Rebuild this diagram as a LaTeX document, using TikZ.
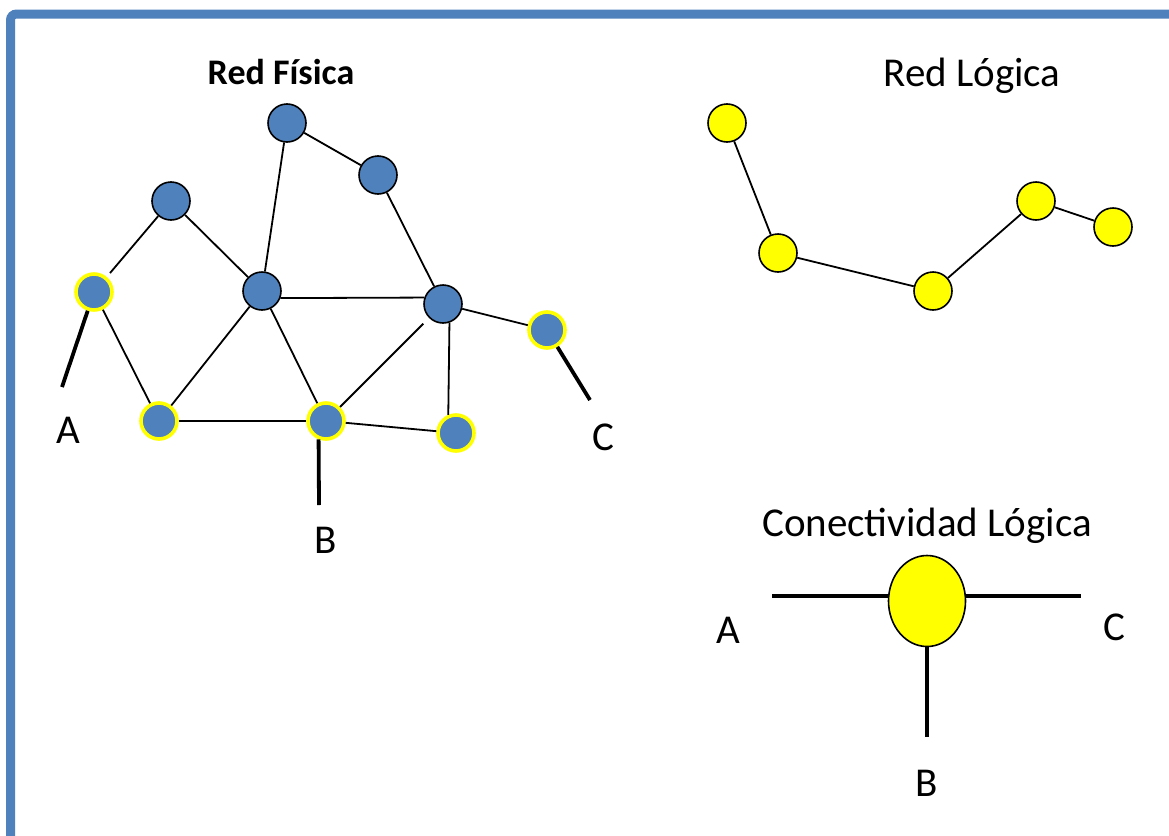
\documentclass[tikz,border=0pt]{standalone}
\usepackage{fontspec}
\setmainfont{Carlito}
\usetikzlibrary{shapes.geometric}
\definecolor{offblue}{RGB}{79,129,189}
\definecolor{ylw}{RGB}{255,255,0}
\tikzset{
  pnode/.style={circle,draw=black,line width=1.6pt,fill=offblue,minimum size=38pt,inner sep=0pt},
  ynode/.style={circle,draw=ylw,line width=3.6pt,fill=offblue,minimum size=36pt,inner sep=0pt},
  lnode/.style={circle,draw=black,line width=1.6pt,fill=ylw,minimum size=38pt,inner sep=0pt},
  edge/.style={line width=1.8pt,black},
  thick edge/.style={line width=3.8pt,black},
  lbl/.style={font=\fontsize{41}{48}\selectfont,inner sep=0pt},
}
\begin{document}
\begin{tikzpicture}[x=1pt,y=-1pt]
\useasboundingbox (0,0) rectangle (1169,835);
\fill[white] (0,0) rectangle (1169,835);
% frame
\draw[offblue,line width=9pt,rounded corners=6pt] (10.5,860) -- (10.5,14) -- (1200,14);

% physical network
\node[pnode] (t) at (287,123) {};
\node[pnode] (n2) at (378,175) {};
\node[pnode] (n3) at (171,201) {};
\node[pnode] (c) at (262,291) {};
\node[pnode] (n5) at (443,304) {};
\node[ynode] (y1) at (94,292) {};
\node[ynode] (y2) at (159,421) {};
\node[ynode] (y3) at (326,421) {};
\node[ynode] (y4) at (456,433) {};
\node[ynode] (y5) at (547,330) {};

\draw[edge] (t) -- (n2);
\draw[edge] (t) -- (c);
\draw[edge] (n2) -- (n5);
\draw[edge,shorten >=5pt] (n3) -- (y1);
\draw[edge] (n3) -- (c);
\draw[edge] (y1) -- (y2);
\draw[edge] (y2) -- (c);
\draw[edge] (y2) -- (y3);
\draw[edge] (c) -- (y3);
\draw[edge] (c.-21.6) -- (n5.161.6);
\draw[edge,shorten <=8pt] (n5) -- (y3);
\draw[edge] (n5.-71.6) -- (y4.113);
\draw[edge] (y3) -- (y4);
\draw[edge] (n5) -- (y5);

\coordinate (ea) at (62,387);
\coordinate (eb) at (319,505);
\coordinate (ec) at (590,400);
\draw[thick edge] (y1) -- (ea);
\draw[thick edge] (y3.-112) -- (eb);
\draw[thick edge] (y5) -- (ec);

\node[lbl] (la) at (68,430) {A};
\node[lbl] (lb) at (326,540) {B};
\node[lbl] (lc) at (603,437) {C};
\node[font=\bfseries\fontsize{36}{42}\selectfont,inner sep=0pt] (tf) at (281,72) {Red Física};

% logical network
\node[font=\fontsize{41}{48}\selectfont,inner sep=0pt] (tl) at (972,76) {Red Lógica};
\node[lnode] (l1) at (727,123) {};
\node[lnode] (l2) at (778,253) {};
\node[lnode] (l3) at (933,291) {};
\node[lnode] (l4) at (1036,201) {};
\node[lnode] (l5) at (1113,227) {};
\draw[edge] (l1) -- (l2);
\draw[edge] (l2) -- (l3);
\draw[edge] (l3) -- (l4);
\draw[edge] (l4) -- (l5);

% logical connectivity
\node[font=\fontsize{41}{48}\selectfont,inner sep=0pt] (tc) at (927,526) {Conectividad Lógica};
\node[ellipse,draw=black,line width=1.6pt,fill=ylw,minimum width=77pt,minimum height=91pt,inner sep=0pt] (e) at (927,601) {};
\coordinate (ca) at (772,596);
\coordinate (cc) at (1081,596);
\coordinate (cb) at (927,737);
\draw[thick edge] (ca) -- (e.west |- ca);
\draw[thick edge] (e.east |- cc) -- (cc);
\draw[thick edge] (e.south) -- (cb);
\node[lbl] (ka) at (728,630) {A};
\node[lbl] (kc) at (1114,627) {C};
\node[lbl] (kb) at (927,783) {B};
\end{tikzpicture}
\end{document}
